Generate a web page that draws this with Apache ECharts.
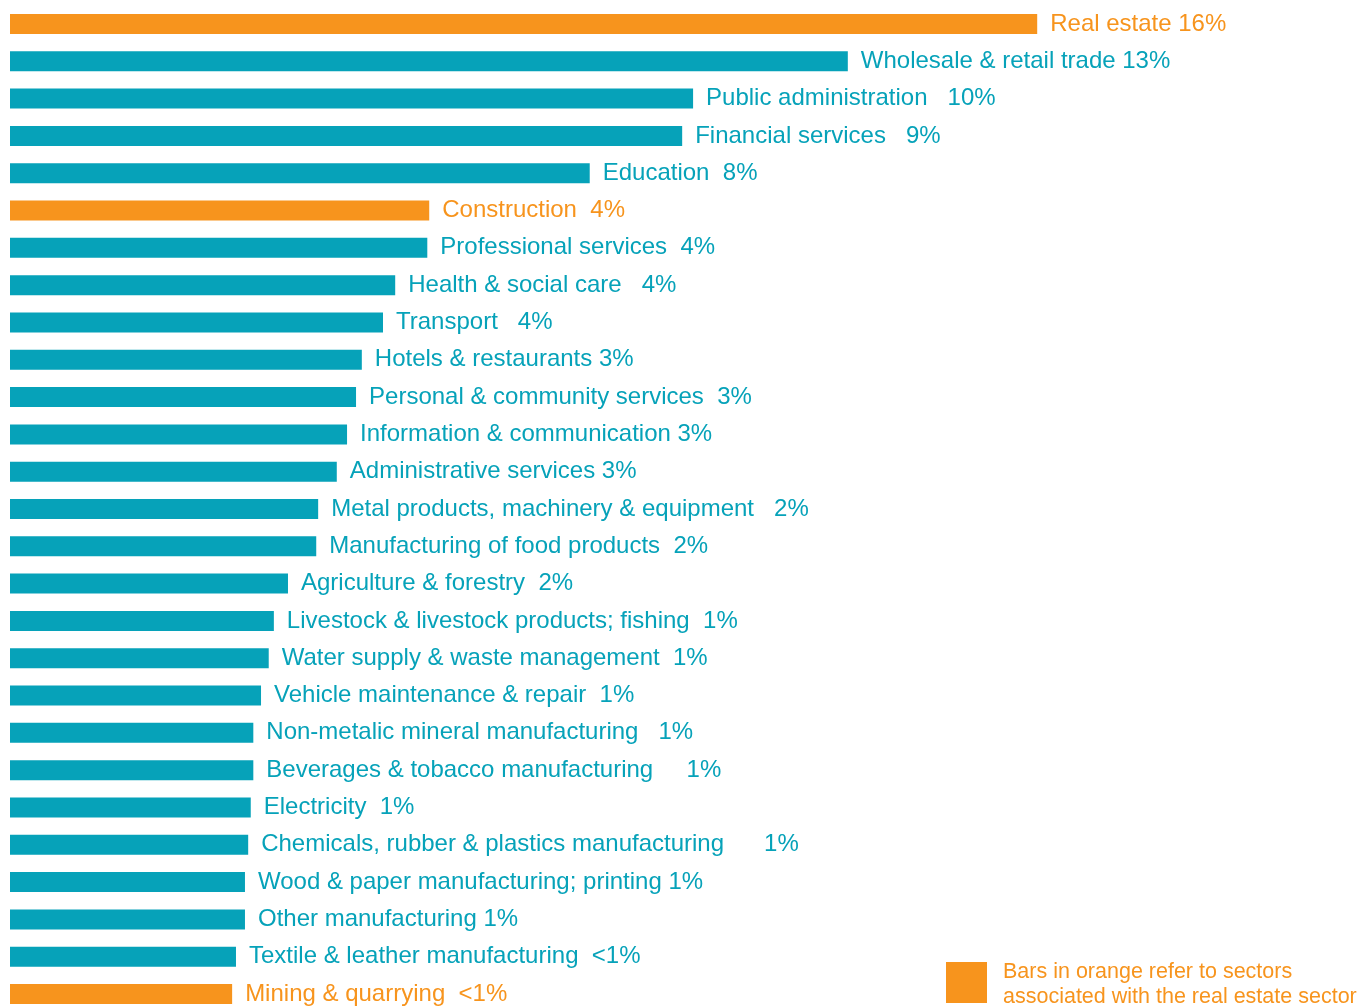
<!DOCTYPE html>
<html>
<head>
<meta charset="utf-8">
<script src="https://cdn.jsdelivr.net/npm/echarts@6/dist/echarts.min.js"></script>
<style>html,body{margin:0;padding:0;background:#fff;overflow:hidden;}#c{width:1359px;height:1007px;}</style>
</head>
<body>
<div id="c"></div>
<script>
var categories = [
  "Real estate", "Wholesale & retail trade", "Public administration", "Financial services",
  "Education", "Construction", "Professional services", "Health & social care", "Transport",
  "Hotels & restaurants", "Personal & community services", "Information & communication",
  "Administrative services", "Metal products, machinery & equipment", "Manufacturing of food products",
  "Agriculture & forestry", "Livestock & livestock products; fishing", "Water supply & waste management",
  "Vehicle maintenance & repair", "Non-metalic mineral manufacturing", "Beverages & tobacco manufacturing",
  "Electricity", "Chemicals, rubber & plastics manufacturing", "Wood & paper manufacturing; printing",
  "Other manufacturing", "Textile & leather manufacturing", "Mining & quarrying"
];
// bar lengths as drawn in the picture
var values = [
  16.0, 13.05, 10.64, 10.47, 9.03, 6.53, 6.50, 6.00, 5.81, 5.48, 5.39, 5.25, 5.09, 4.80, 4.77,
  4.33, 4.11, 4.03, 3.91, 3.79, 3.79, 3.75, 3.71, 3.66, 3.66, 3.52, 3.46
];
var pctLabels = [
  " 16%", " 13%", "   10%", "   9%", "  8%", "  4%", "  4%", "   4%", "   4%", " 3%", "  3%", " 3%",
  " 3%", "   2%", "  2%", "  2%", "  1%", "  1%", "  1%", "   1%", "     1%", "  1%", "      1%",
  " 1%", " 1%", "  <1%", "  <1%"
];
var realEstateRelated = [true, false, false, false, false, true, false, false, false, false, false, false,
  false, false, false, false, false, false, false, false, false, false, false, false, false, false, true];
var legendText = "Bars in orange refer to sectors\nassociated with the real estate sector";

var ORANGE = "#F7941D", TEAL = "#06A2B9";

var chart = echarts.init(document.getElementById("c"));
chart.setOption({
  animation: false,
  grid: { left: 10, top: 24, width: 1284, height: 970, containLabel: false },
  xAxis: { type: "value", min: 0, max: 20, show: false },
  yAxis: { type: "category", data: categories, inverse: true, show: false, boundaryGap: false },
  series: [{
    type: "bar",
    barWidth: 20,
    data: values.map(function (v, i) {
      var c = realEstateRelated[i] ? ORANGE : TEAL;
      return { value: v, itemStyle: { color: c }, label: { color: c } };
    }),
    label: {
      show: true,
      position: "right",
      distance: 13,
      fontFamily: "Liberation Sans, Arial, sans-serif",
      fontSize: 24,
      formatter: function (p) { return categories[p.dataIndex] + pctLabels[p.dataIndex]; }
    }
  }],
  graphic: [
    { type: "rect", left: 946, top: 962, shape: { width: 41, height: 41 }, style: { fill: ORANGE } },
    { type: "text", left: 1003, top: 960, style: {
      text: legendText, fill: ORANGE, font: "21.5px 'Liberation Sans', Arial, sans-serif", lineHeight: 25
    } }
  ]
});
</script>
</body>
</html>
